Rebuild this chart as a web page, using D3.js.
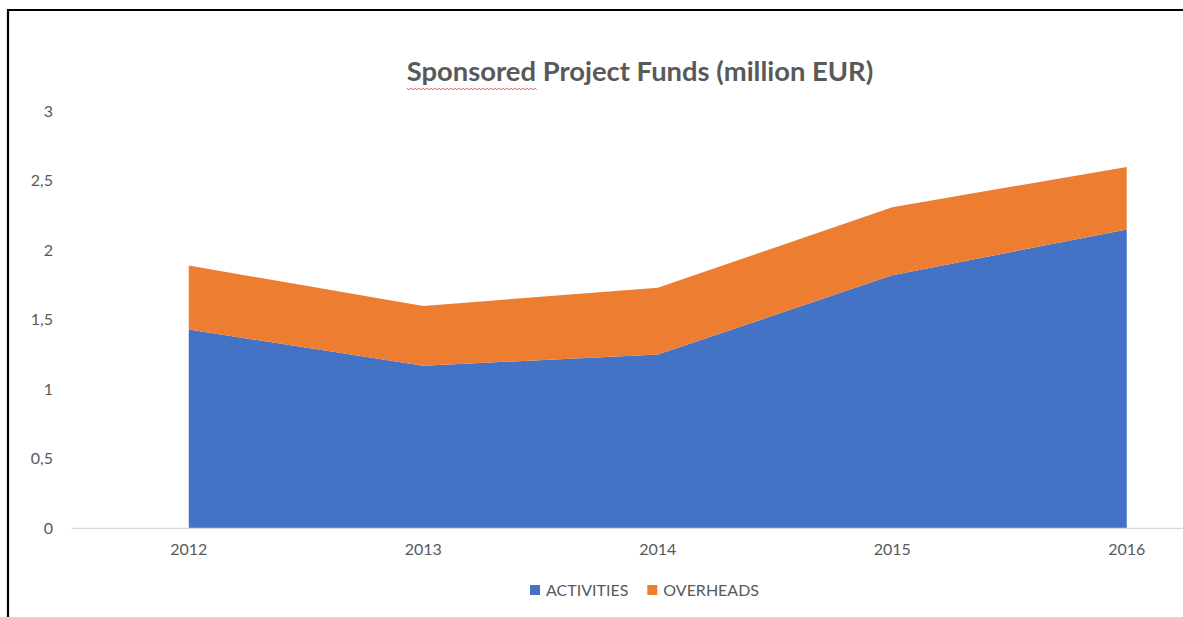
<!DOCTYPE html>
<html>
<head>
<meta charset="utf-8">
<script src="https://cdn.jsdelivr.net/npm/d3@7"></script>
<style>
  body { margin: 0; background: #fff; }
  svg { display: block; font-family: Lato, "Open Sans", sans-serif; }
</style>
</head>
<body>
<div id="chart"></div>
<script>
// data
const years = ["2012", "2013", "2014", "2015", "2016"];
const activities = [1.43, 1.17, 1.25, 1.82, 2.15];
const overheads = [0.46, 0.43, 0.48, 0.49, 0.45];
const seriesNames = ["ACTIVITIES", "OVERHEADS"];
const yTicks = [0, 0.5, 1, 1.5, 2, 2.5, 3];

const W = 1183, H = 617;
const colors = {ACTIVITIES: "#4472C4", OVERHEADS: "#ED7D31"};
const textColor = "#595959";

const svg = d3.select("#chart")
    .append("svg")
    .attr("width", W)
    .attr("height", H);

// frame (top and left edges of the original screenshot)
svg.append("path")
    .attr("d", "M8,617 V10 H1183")
    .attr("fill", "none")
    .attr("stroke", "#000")
    .attr("stroke-width", 2.2);

// scales
const x = d3.scaleBand()
    .domain(years)
    .range([71.5, 71.5 + 234.5 * years.length]);
const cx = d => x(d) + x.bandwidth() / 2;

const y = d3.scaleLinear()
    .domain([0, 3])
    .range([528.3, 111.3]);

// stacked table
const table = years.map((yr, i) => ({year: yr, ACTIVITIES: activities[i], OVERHEADS: overheads[i]}));
const stacked = d3.stack().keys(seriesNames)(table);

const area = d3.area()
    .x(d => cx(d.data.year))
    .y0(d => y(d[0]))
    .y1(d => y(d[1]));

svg.append("g")
    .selectAll("path")
    .data(stacked)
    .enter()
    .append("path")
    .attr("d", area)
    .attr("fill", d => colors[d.key]);

// baseline
svg.append("line")
    .attr("x1", 71.5)
    .attr("x2", W)
    .attr("y1", y(0))
    .attr("y2", y(0))
    .attr("stroke", "#D9D9D9")
    .attr("stroke-width", 1.3);

// Y axis labels
const yAxis = svg.append("g")
    .attr("transform", "translate(53,0)")
    .call(d3.axisLeft(y).tickValues(yTicks).tickSize(0).tickPadding(0)
        .tickFormat(d => String(d).replace(".", ",")));
yAxis.select(".domain").remove();
yAxis.selectAll("text")
    .attr("fill", textColor)
    .style("font-family", "Lato, 'Open Sans', sans-serif")
    .style("font-size", "16px");

// X axis labels
const xAxis = svg.append("g")
    .attr("transform", "translate(0," + y(0) + ")")
    .call(d3.axisBottom(x).tickSize(0).tickPadding(15));
xAxis.select(".domain").remove();
xAxis.selectAll("text")
    .attr("fill", textColor)
    .style("font-family", "Lato, 'Open Sans', sans-serif")
    .style("font-size", "16px");

// title
const title = svg.append("text")
    .attr("x", 640)
    .attr("y", 81)
    .attr("text-anchor", "middle")
    .attr("fill", textColor)
    .style("font-size", "27.4px")
    .style("font-weight", "bold")
    .text("Sponsored Project Funds (million EUR)");

// spell-check squiggle under the first word
const tNode = title.node();
const start = tNode.getStartPositionOfChar(0).x;
const wordW = tNode.getSubStringLength(0, 9);
const sq = d3.path();
sq.moveTo(start, 88);
for (let px = start, k = 0; px < start + wordW; px += 2, k++) {
    sq.lineTo(px + 2, k % 2 ? 88 : 90);
}
svg.append("path")
    .attr("d", sq.toString())
    .attr("fill", "none")
    .attr("stroke", "#E03030")
    .attr("stroke-width", 0.8);

// legend
const legend = svg.append("g").attr("transform", "translate(530,590)");
let lx = 0;
seriesNames.forEach(name => {
    const g = legend.append("g").attr("transform", "translate(" + lx + ",0)");
    g.append("rect")
        .attr("x", 0)
        .attr("y", -5)
        .attr("width", 10)
        .attr("height", 10)
        .attr("fill", colors[name]);
    const t = g.append("text")
        .attr("x", 16)
        .attr("y", 5.5)
        .attr("fill", textColor)
        .style("font-size", "16px")
        .text(name);
    lx += 16 + t.node().getComputedTextLength() + 19;
});
</script>
</body>
</html>
